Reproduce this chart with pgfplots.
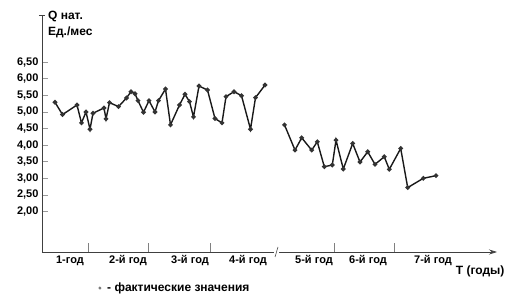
\documentclass[border=0pt]{standalone}
\usepackage{pgfplots}
\pgfplotsset{compat=1.18}
\usepackage{fontspec}
\setmainfont{Liberation Sans}
\usetikzlibrary{arrows.meta}

\pgfplotstableread{
x y
55 5.29
62.5 4.92
77 5.21
81.5 4.67
86 5.00
90 4.48
93 4.96
104 5.12
106 4.79
109.5 5.28
118.5 5.16
126.5 5.42
131 5.61
135 5.55
138 5.34
143.5 4.99
149 5.34
155 5.00
158.5 5.34
165.5 5.69
170.5 4.61
179.5 5.21
185 5.53
189.5 5.31
193.5 4.85
199 5.78
207.5 5.66
215 4.80
222 4.67
226 5.46
234 5.61
241.5 5.49
250.5 4.48
255.5 5.43
265 5.81
}\partA

\pgfplotstableread{
x y
284.5 4.61
295 3.85
301.7 4.22
311.7 3.85
317.3 4.10
324.3 3.35
332.3 3.40
336 4.15
343.3 3.28
352.7 4.05
360 3.49
367.7 3.80
375 3.42
384.3 3.65
389.3 3.27
400.7 3.90
407.7 2.72
423.3 3.00
436 3.08
}\partB

\begin{document}
\begin{tikzpicture}[font=\fontsize{11}{16}\selectfont\bfseries]
\path[use as bounding box] (-42pt,-45pt) rectangle (473pt,252pt);
\begin{axis}[
  name=ax, anchor=south west, at={(0pt,0pt)},
  scale only axis, width=455pt, height=237pt,
  xmin=42, xmax=497, ymin=0.78, ymax=7.92,
  axis lines*=left,
  axis line style={black!75, line width=0.7pt},
  x axis line style={-{Stealth[length=8pt,width=5pt]}},
  tick align=inside,
  xtick={88,148,210,334,394},
  xticklabels={},
  major tick length=9pt,
  xtick style={black!50, line width=0.6pt},
  extra x ticks={70,128,190,248,314,368,433},
  extra x tick labels={1-год,2-й год,3-й год,4-й год,5-й год,6-й год,7-й год},
  extra x tick style={tick style={draw=none}},
  ytick={2,2.5,...,6.5},
  ytick style={black!40, line width=0.6pt, /pgfplots/major tick length=6pt},
  yticklabel style={/pgf/number format/.cd, fixed, fixed zerofill, precision=2, use comma, assume math mode=true},
  tick label style={font=\fontsize{11}{14}\selectfont\bfseries},
  xlabel={T (годы)},
  xlabel style={at={(axis description cs:0.963,-0.08)}, anchor=center, inner sep=0pt, font=\fontsize{12}{14}\selectfont\bfseries},
  ylabel={Q нат.\\Ед./мес},
  ylabel style={rotate=-90, at={(axis description cs:0.013,1.018)}, anchor=north west, align=left, inner sep=0pt, font=\fontsize{12}{16.5}\selectfont\bfseries},
  legend style={at={(axis description cs:0.124,-0.152)}, anchor=west, draw=none, fill=none, inner sep=0pt, font=\fontsize{12}{14}\selectfont\bfseries},
  legend cell align=left,
  clip=false,
]
\addplot[black!90, line width=1.4pt, mark=*, mark size=1.6pt, mark options={fill=black!80, draw=black!80}, forget plot] table[x=x,y=y] {\partA};
\addplot[black!90, line width=1.4pt, mark=*, mark size=1.6pt, mark options={fill=black!80, draw=black!80}, forget plot] table[x=x,y=y] {\partB};
\addlegendimage{only marks, mark=*, mark size=1.3pt, black!55}
\addlegendentry{\hspace{4pt}- фактические значения}
\end{axis}
% axis break mark and small cross at the top of the vertical axis
\fill[white] (232pt,-3pt) rectangle (237pt,3pt);
\draw[black!70, line width=0.6pt] (233pt,-5pt) .. controls (234pt,-2pt) and (235pt,2pt) .. (236pt,5pt);
\draw[black!75, line width=0.6pt] (-3pt,237pt) -- (3pt,237pt);
\end{tikzpicture}
\end{document}
